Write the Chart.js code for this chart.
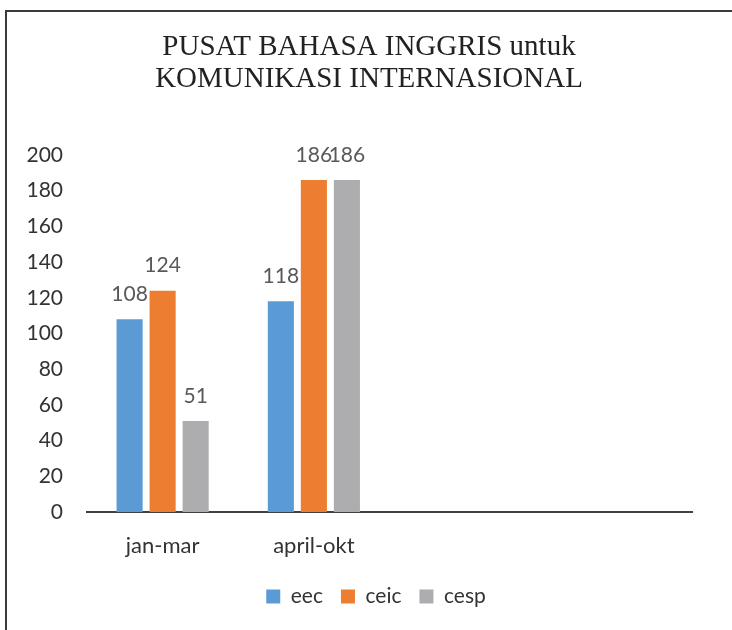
<!DOCTYPE html>
<html>
<head>
<meta charset="utf-8">
<script src="https://cdn.jsdelivr.net/npm/chart.js@4"></script>
<style>
  html, body { margin: 0; padding: 0; background: #fff; }
  #wrap { width: 732px; height: 630px; position: relative; }
</style>
</head>
<body>
<div id="wrap"><canvas id="c" width="732" height="630"></canvas></div>
<script>
const categories = ["jan-mar", "april-okt", "", ""];
const eec  = [108, 118, null, null];
const ceic = [124, 186, null, null];
const cesp = [51, 186, null, null];
const seriesNames = ["eec", "ceic", "cesp"];
const titleLines = ["PUSAT BAHASA INGGRIS untuk", "KOMUNIKASI INTERNASIONAL"];
const yTicksMax = 200;
const yTicksStep = 20;

const frame = {
  id: 'frame',
  beforeDraw(chart) {
    const ctx = chart.ctx;
    ctx.save();
    ctx.fillStyle = '#fff';
    ctx.fillRect(0, 0, chart.width, chart.height);
    ctx.strokeStyle = '#3a3a3a';
    ctx.lineWidth = 2;
    ctx.beginPath();
    ctx.moveTo(6, 630);
    ctx.lineTo(6, 11);
    ctx.lineTo(732, 11);
    ctx.stroke();
    ctx.restore();
  }
};

const legendShift = {
  id: 'legendShift',
  afterLayout(chart) {
    if (chart.legend) { chart.legend.left += 7; chart.legend.right += 7; }
  }
};

const valueLabels = {
  id: 'valueLabels',
  afterDatasetsDraw(chart) {
    const ctx = chart.ctx;
    ctx.save();
    ctx.font = '21px Lato';
    ctx.fillStyle = '#595959';
    ctx.textAlign = 'center';
    ctx.textBaseline = 'middle';
    chart.data.datasets.forEach((ds, i) => {
      const meta = chart.getDatasetMeta(i);
      meta.data.forEach((bar, j) => {
        const v = ds.data[j];
        if (v === null || v === undefined) return;
        ctx.fillText(String(v), bar.x, bar.y - 25);
      });
    });
    ctx.restore();
  }
};

new Chart(document.getElementById('c'), {
  type: 'bar',
  data: {
    labels: categories,
    datasets: [
      { label: seriesNames[0], data: eec,  backgroundColor: '#5B9BD5' },
      { label: seriesNames[1], data: ceic, backgroundColor: '#ED7D31' },
      { label: seriesNames[2], data: cesp, backgroundColor: '#ADADB0' }
    ]
  },
  options: {
    responsive: false,
    animation: false,
    devicePixelRatio: 1,
    layout: { padding: { left: 6, right: 0, top: 11, bottom: 13 } },
    datasets: { bar: { categoryPercentage: 0.655, barPercentage: 0.79 } },
    scales: {
      x: {
        grid: { display: false, drawTicks: false },
        border: { display: true, color: '#404040', width: 2 },
        ticks: { padding: 21, color: '#333', font: { family: 'Lato', size: 22 } },
        afterFit(s) { s.height = 56; }
      },
      y: {
        min: 0, max: yTicksMax,
        ticks: { stepSize: yTicksStep, padding: 24, color: '#333', font: { family: 'Lato', size: 21 } },
        grid: { display: false, drawTicks: false },
        border: { display: false },
        afterFit(s) { s.width = 81; }
      },
      yr: {
        position: 'right',
        display: true,
        ticks: { display: false },
        grid: { display: false, drawTicks: false },
        border: { display: false },
        afterFit(s) { s.width = 40; }
      }
    },
    plugins: {
      title: {
        display: true,
        text: titleLines,
        color: '#222',
        font: { family: 'Liberation Serif', size: 29, weight: 'normal', lineHeight: 1.12 },
        padding: { top: 20, bottom: 59 }
      },
      legend: {
        position: 'bottom',
        labels: {
          boxWidth: 14, boxHeight: 14, padding: 18,
          color: '#333',
          font: { family: 'Lato', size: 21 }
        }
      },
      tooltip: { enabled: false }
    }
  },
  plugins: [frame, legendShift, valueLabels]
});
</script>
</body>
</html>
